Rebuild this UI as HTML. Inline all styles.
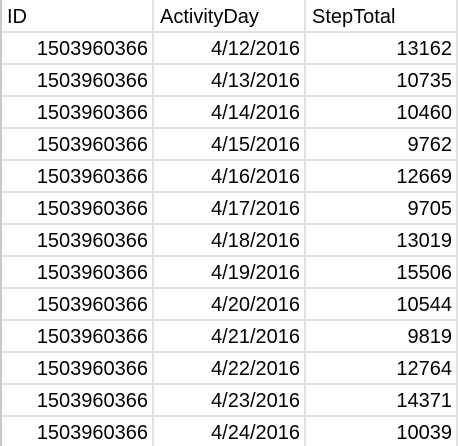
<!DOCTYPE html>
<html><head><meta charset="utf-8"><style>
html,body{margin:0;padding:0;background:#fff;}
#sheet{position:relative;width:458px;height:446px;overflow:hidden;font-family:"Liberation Sans",Arial,sans-serif;font-size:20px;color:#000;}
.hl{position:absolute;left:0;width:458px;height:2px;background:#e2e2e2;}
.vl{position:absolute;top:0;width:2px;height:446px;background:#e2e2e2;}
.c{position:absolute;height:30px;line-height:30px;white-space:nowrap;}
.r{text-align:right;}
</style></head><body>
<div id="sheet"></div>
<script>
const ids=["1503960366","1503960366","1503960366","1503960366","1503960366","1503960366","1503960366","1503960366","1503960366","1503960366","1503960366","1503960366","1503960366"];
const days=["4/12/2016","4/13/2016","4/14/2016","4/15/2016","4/16/2016","4/17/2016","4/18/2016","4/19/2016","4/20/2016","4/21/2016","4/22/2016","4/23/2016","4/24/2016"];
const steps=[13162,10735,10460,9762,12669,9705,13019,15506,10544,9819,12764,14371,10039];
const headers=["ID","ActivityDay","StepTotal"];
const s=document.getElementById('sheet');
const colL=[0,153,305], colR=[148,300,452];
function cell(txt,x,y,w,right,name){
  const d=document.createElement('div');
  d.className='c'+(right?' r':'');
  d.style.left=x+'px';d.style.top=y+'px';d.style.width=w+'px';
  d.textContent=txt;
  
  
  s.appendChild(d);
}
headers.forEach((h,i)=>cell(h,colL[i]+7,2,140,false,'header-'+h.toLowerCase()));
for(let k=0;k<ids.length;k++){
  const y=34+32*k;
  cell(ids[k],0,y,colR[0],true,'id-cell');
  cell(days[k],153,y,colR[1]-153,true,'activity-day-cell');
  cell(String(steps[k]),305,y,colR[2]-305,true,'step-total-cell');
}
for(let k=0;k<13;k++){
  const l=document.createElement('div');l.className='hl';l.style.top=(31+32*k)+'px';
  
  
  s.appendChild(l);
}
[0,152,304,456].forEach(x=>{
  const l=document.createElement('div');l.className='vl';l.style.left=x+'px';
  if(x===0)l.style.background='#c8c8c8';
  
  
  s.appendChild(l);
});
</script>
</body></html>
